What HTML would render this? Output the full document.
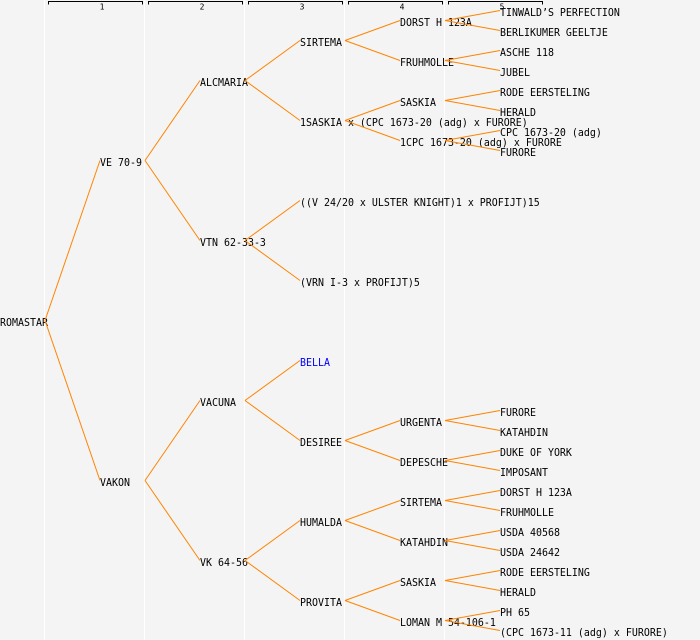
<!DOCTYPE html>
<html>
<head>
<meta charset="utf-8">
<style>
  html, body { margin: 0; padding: 0; background: #f4f4f4; }
  svg { display: block; }
  text { font-family: "DejaVu Sans Mono", "Liberation Mono", monospace; font-size: 11px; fill: #000; }
  .h { font-size: 8px; }
</style>
</head>
<body>
<svg width="700" height="640" viewBox="0 0 700 640" xmlns="http://www.w3.org/2000/svg">
  <rect x="0" y="0" width="700" height="640" fill="#f4f4f4"/>
  <!-- column separators -->
  <g fill="#ffffff">
    <rect x="44" y="0" width="1" height="640"/>
    <rect x="144" y="0" width="1" height="640"/>
    <rect x="244" y="0" width="1" height="640"/>
    <rect x="344" y="0" width="1" height="640"/>
    <rect x="444" y="0" width="1" height="640"/>
  </g>
  <!-- header brackets -->
  <g fill="none" stroke="#000" stroke-width="1">
    <path d="M48.5 4.5 V1.5 H142.5 V4.5"/>
    <path d="M148.5 4.5 V1.5 H242.5 V4.5"/>
    <path d="M248.5 4.5 V1.5 H342.5 V4.5"/>
    <path d="M348.5 4.5 V1.5 H442.5 V4.5"/>
    <path d="M448.5 4.5 V1.5 H542.5 V4.5"/>
  </g>
  <g class="h">
    <text class="h" x="102" y="9.5" text-anchor="middle">1</text>
    <text class="h" x="202" y="9.5" text-anchor="middle">2</text>
    <text class="h" x="302" y="9.5" text-anchor="middle">3</text>
    <text class="h" x="402" y="9.5" text-anchor="middle">4</text>
    <text class="h" x="502" y="9.5" text-anchor="middle">5</text>
  </g>

  <!-- labels -->
  <g>
    <text transform="translate(0 326) scale(.906 1)">ROMASTAR</text>

    <text transform="translate(100 166) scale(.906 1)">VE 70-9</text>
    <text transform="translate(100 486) scale(.906 1)">VAKON</text>

    <text transform="translate(200 86) scale(.906 1)">ALCMARIA</text>
    <text transform="translate(200 246) scale(.906 1)">VTN 62-33-3</text>
    <text transform="translate(200 406) scale(.906 1)">VACUNA</text>
    <text transform="translate(200 566) scale(.906 1)">VK 64-56</text>

    <text transform="translate(300 46) scale(.906 1)">SIRTEMA</text>
    <text transform="translate(300 126) scale(.906 1)">1SASKIA x (CPC 1673-20 (adg) x FURORE)</text>
    <text transform="translate(300 206) scale(.906 1)">((V 24/20 x ULSTER KNIGHT)1 x PROFIJT)15</text>
    <text transform="translate(300 286) scale(.906 1)">(VRN I-3 x PROFIJT)5</text>
    <text transform="translate(300 366) scale(.906 1)" style="fill:#0000ff">BELLA</text>
    <text transform="translate(300 446) scale(.906 1)">DESIREE</text>
    <text transform="translate(300 526) scale(.906 1)">HUMALDA</text>
    <text transform="translate(300 606) scale(.906 1)">PROVITA</text>

    <text transform="translate(400 26) scale(.906 1)">DORST H 123A</text>
    <text transform="translate(400 66) scale(.906 1)">FRUHMOLLE</text>
    <text transform="translate(400 106) scale(.906 1)">SASKIA</text>
    <text transform="translate(400 146) scale(.906 1)">1CPC 1673-20 (adg) x FURORE</text>
    <text transform="translate(400 426) scale(.906 1)">URGENTA</text>
    <text transform="translate(400 466) scale(.906 1)">DEPESCHE</text>
    <text transform="translate(400 506) scale(.906 1)">SIRTEMA</text>
    <text transform="translate(400 546) scale(.906 1)">KATAHDIN</text>
    <text transform="translate(400 586) scale(.906 1)">SASKIA</text>
    <text transform="translate(400 626) scale(.906 1)">LOMAN M 54-106-1</text>

    <text transform="translate(500 16) scale(.906 1)">TINWALD’S PERFECTION</text>
    <text transform="translate(500 36) scale(.906 1)">BERLIKUMER GEELTJE</text>
    <text transform="translate(500 56) scale(.906 1)">ASCHE 118</text>
    <text transform="translate(500 76) scale(.906 1)">JUBEL</text>
    <text transform="translate(500 96) scale(.906 1)">RODE EERSTELING</text>
    <text transform="translate(500 116) scale(.906 1)">HERALD</text>
    <text transform="translate(500 136) scale(.906 1)">CPC 1673-20 (adg)</text>
    <text transform="translate(500 156) scale(.906 1)">FURORE</text>
    <text transform="translate(500 416) scale(.906 1)">FURORE</text>
    <text transform="translate(500 436) scale(.906 1)">KATAHDIN</text>
    <text transform="translate(500 456) scale(.906 1)">DUKE OF YORK</text>
    <text transform="translate(500 476) scale(.906 1)">IMPOSANT</text>
    <text transform="translate(500 496) scale(.906 1)">DORST H 123A</text>
    <text transform="translate(500 516) scale(.906 1)">FRUHMOLLE</text>
    <text transform="translate(500 536) scale(.906 1)">USDA 40568</text>
    <text transform="translate(500 556) scale(.906 1)">USDA 24642</text>
    <text transform="translate(500 576) scale(.906 1)">RODE EERSTELING</text>
    <text transform="translate(500 596) scale(.906 1)">HERALD</text>
    <text transform="translate(500 616) scale(.906 1)">PH 65</text>
    <text transform="translate(500 636) scale(.906 1)">(CPC 1673-11 (adg) x FURORE)</text>
  </g>

  <!-- connectors -->
  <g stroke="#ff8400" stroke-width="1" fill="none">
    <path d="M45 320.5 L100 160.5 M45 320.5 L100 480.5"/>

    <path d="M145 160.5 L200 80.5 M145 160.5 L200 240.5"/>
    <path d="M145 480.5 L200 400.5 M145 480.5 L200 560.5"/>

    <path d="M245 80.5 L300 40.5 M245 80.5 L300 120.5"/>
    <path d="M245 240.5 L300 200.5 M245 240.5 L300 280.5"/>
    <path d="M245 400.5 L300 360.5 M245 400.5 L300 440.5"/>
    <path d="M245 560.5 L300 520.5 M245 560.5 L300 600.5"/>

    <path d="M345 40.5 L400 20.5 M345 40.5 L400 60.5"/>
    <path d="M345 120.5 L400 100.5 M345 120.5 L400 140.5"/>
    <path d="M345 440.5 L400 420.5 M345 440.5 L400 460.5"/>
    <path d="M345 520.5 L400 500.5 M345 520.5 L400 540.5"/>
    <path d="M345 600.5 L400 580.5 M345 600.5 L400 620.5"/>

    <path d="M445 20.5 L500 10.5 M445 20.5 L500 30.5"/>
    <path d="M445 60.5 L500 50.5 M445 60.5 L500 70.5"/>
    <path d="M445 100.5 L500 90.5 M445 100.5 L500 110.5"/>
    <path d="M445 140.5 L500 130.5 M445 140.5 L500 150.5"/>
    <path d="M445 420.5 L500 410.5 M445 420.5 L500 430.5"/>
    <path d="M445 460.5 L500 450.5 M445 460.5 L500 470.5"/>
    <path d="M445 500.5 L500 490.5 M445 500.5 L500 510.5"/>
    <path d="M445 540.5 L500 530.5 M445 540.5 L500 550.5"/>
    <path d="M445 580.5 L500 570.5 M445 580.5 L500 590.5"/>
    <path d="M445 620.5 L500 610.5 M445 620.5 L500 630.5"/>
  </g>
</svg>
</body>
</html>
